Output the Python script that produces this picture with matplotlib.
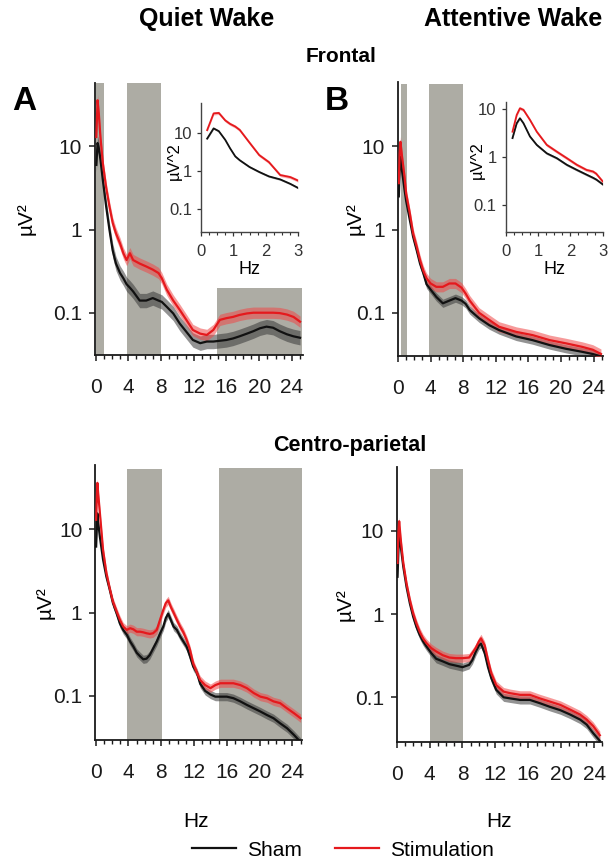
import matplotlib
matplotlib.use("Agg")
import matplotlib.pyplot as plt
import numpy as np
from matplotlib.ticker import FixedLocator, FixedFormatter, MultipleLocator, NullLocator
from matplotlib.lines import Line2D

plt.rcParams['font.family'] = ['Liberation Sans', 'DejaVu Sans']

# ---------------- spectra (µV^2) ----------------
# Quiet wake, frontal
qw_fr_freq = [0.1, 0.25, 0.4, 0.6, 0.9, 1.3, 1.7, 2.1, 2.5, 3.0, 3.4, 3.8, 4.2, 4.6, 5.4,
              6.2, 7.0, 7.7, 8.1, 8.7, 9.5, 10.3, 11.1, 11.9, 12.8, 13.6, 14.4, 15.2, 16.0,
              16.8, 17.6, 18.5, 19.3, 20.1, 20.9, 21.7, 22.5, 23.4, 24.2, 25.0]
qw_fr_sham = [6.0, 11.0, 9.5, 7.0, 3.9, 1.9, 1.0, 0.56, 0.39, 0.30, 0.26, 0.22, 0.20, 0.18, 0.14,
              0.14, 0.15, 0.14, 0.135, 0.118, 0.098, 0.074, 0.059, 0.047, 0.043, 0.045, 0.045, 0.046, 0.047,
              0.049, 0.052, 0.056, 0.060, 0.065, 0.068, 0.066, 0.060, 0.055, 0.052, 0.050]
qw_fr_stim = [13.0, 36.0, 25.0, 13.0, 6.2, 3.2, 1.9, 1.2, 0.9, 0.68, 0.52, 0.43, 0.52, 0.43, 0.39,
              0.36, 0.33, 0.30, 0.26, 0.19, 0.14, 0.108, 0.082, 0.062, 0.056, 0.054, 0.062, 0.082, 0.086,
              0.089, 0.094, 0.098, 0.100, 0.100, 0.100, 0.100, 0.099, 0.095, 0.089, 0.078]

# Attentive wake, frontal
aw_fr_freq = [0.1, 0.2, 0.3, 0.5, 0.8, 1.0, 1.45, 1.85, 2.3, 2.7, 3.1, 3.5, 4.0, 4.7, 5.5,
              6.3, 7.05, 7.8, 8.3, 8.8, 9.95, 11.2, 12.4, 14.5, 16.5, 18.6, 20.6, 22.6, 23.9, 24.9]
aw_fr_sham = [2.5, 5.2, 7.5, 5.0, 3.0, 2.2, 1.3, 0.82, 0.56, 0.39, 0.30, 0.22, 0.19, 0.155, 0.13,
              0.14, 0.15, 0.14, 0.128, 0.108, 0.086, 0.071, 0.062, 0.052, 0.047, 0.041, 0.037, 0.034, 0.032, 0.030]
aw_fr_stim = [3.6, 8.2, 11.3, 7.4, 4.3, 2.7, 1.56, 0.9, 0.62, 0.43, 0.32, 0.26, 0.225, 0.205, 0.205,
              0.225, 0.225, 0.20, 0.17, 0.14, 0.10, 0.082, 0.068, 0.059, 0.054, 0.047, 0.043, 0.039, 0.036, 0.032]

# Quiet wake, centro-parietal
qw_cp_freq = [0.05, 0.2, 0.3, 0.5, 0.9, 1.3, 1.7, 2.1, 2.55, 2.95, 3.35, 3.8, 4.2, 4.6, 5.0, 5.4, 5.8,
              6.2, 6.6, 7.0, 7.45, 7.85, 8.25, 8.55, 8.85, 9.2, 9.5, 9.9, 10.3, 10.7, 11.1, 11.5, 11.9,
              12.35, 12.75, 13.35, 14.0, 14.6, 15.2, 16.0, 16.8, 17.65, 18.45, 19.3, 20.1, 20.9, 21.7,
              22.5, 23.35, 24.2, 25.0]
qw_cp_sham = [6.2, 15.5, 12.0, 8.2, 4.3, 2.7, 1.9, 1.3, 0.98, 0.74, 0.62, 0.54, 0.45, 0.39, 0.33, 0.30, 0.275,
              0.28, 0.31, 0.37, 0.45, 0.56, 0.68, 0.86, 0.97, 0.80, 0.68, 0.62, 0.52, 0.45, 0.39, 0.30, 0.225,
              0.19, 0.14, 0.115, 0.104, 0.098, 0.098, 0.098, 0.094, 0.086, 0.078, 0.071, 0.065, 0.059, 0.054,
              0.047, 0.041, 0.034, 0.028]
qw_cp_stim = [13.0, 36.0, 27.0, 16.0, 5.6, 3.0, 1.96, 1.35, 1.03, 0.82, 0.68, 0.62, 0.65, 0.63, 0.59, 0.59, 0.58,
              0.565, 0.555, 0.565, 0.62, 0.82, 1.08, 1.3, 1.4, 1.15, 1.0, 0.82, 0.68, 0.58, 0.47, 0.36, 0.245,
              0.19, 0.155, 0.135, 0.124, 0.135, 0.142, 0.142, 0.142, 0.135, 0.124, 0.108, 0.098, 0.094, 0.086,
              0.082, 0.071, 0.062, 0.054]

# Attentive wake, centro-parietal
aw_cp_freq = [0.1, 0.2, 0.3, 0.5, 0.8, 1.2, 1.6, 2.0, 2.4, 2.8, 3.2, 3.6, 4.2, 4.8, 5.6, 6.4, 7.2,
              8.0, 8.8, 9.2, 9.6, 10.0, 10.25, 10.7, 11.1, 11.5, 12.1, 13.0, 13.8, 15.0, 16.2, 17.4,
              18.6, 19.9, 21.1, 22.3, 23.1, 23.9, 24.7]
aw_cp_sham = [2.8, 5.4, 10.0, 6.4, 3.7, 2.1, 1.34, 0.93, 0.70, 0.56, 0.47, 0.41, 0.34, 0.29, 0.27, 0.25, 0.24,
              0.23, 0.245, 0.28, 0.35, 0.42, 0.44, 0.34, 0.23, 0.17, 0.123, 0.10, 0.097, 0.093, 0.093, 0.085,
              0.077, 0.070, 0.062, 0.054, 0.047, 0.037, 0.030]
aw_cp_stim = [4.1, 9.3, 13.0, 7.7, 4.1, 2.3, 1.47, 1.02, 0.77, 0.61, 0.51, 0.45, 0.39, 0.355, 0.32, 0.30, 0.295,
              0.295, 0.30, 0.34, 0.39, 0.47, 0.51, 0.42, 0.28, 0.195, 0.14, 0.117, 0.112, 0.107, 0.107, 0.097,
              0.089, 0.081, 0.071, 0.062, 0.054, 0.045, 0.035]

# Low-frequency detail (insets, 0-3 Hz)
qw_low_freq = [0.19, 0.39, 0.55, 0.75, 0.9, 1.06, 1.2, 1.5, 1.8, 2.1, 2.45, 2.76, 3.0]
qw_low_sham = [7.0, 13.0, 11.0, 6.5, 3.9, 2.4, 1.9, 1.27, 0.94, 0.72, 0.60, 0.46, 0.36]
qw_low_stim = [11.7, 32.0, 33.0, 21.0, 17.0, 14.5, 11.8, 5.5, 2.6, 1.7, 0.78, 0.69, 0.56]

aw_low_freq = [0.21, 0.34, 0.44, 0.55, 0.75, 0.96, 1.27, 1.58, 1.89, 2.2, 2.5, 2.7, 2.8, 3.0]
aw_low_sham = [2.5, 5.1, 6.5, 5.1, 2.7, 1.8, 1.2, 0.95, 0.69, 0.54, 0.43, 0.37, 0.34, 0.27]
aw_low_stim = [3.4, 7.6, 10.5, 9.7, 6.0, 3.4, 1.8, 1.3, 0.95, 0.69, 0.54, 0.50, 0.45, 0.31]

# Relative SEM of each group (sham, stimulation)
sem_rel = {
    "qw_fr": (0.22, 0.17), "aw_fr": (0.12, 0.15),
    "qw_cp": (0.12, 0.12), "aw_cp": (0.12, 0.12),
    "qw_low": (0.06, 0.10), "aw_low": (0.06, 0.08),
}

# Frequency ranges with significant differences (start Hz, end Hz, top µV^2)
qw_fr_sig = [(0.12, 1.06, 58), (3.8, 7.95, 58), (14.8, 25.2, 0.2)]
aw_fr_sig = [(0.4, 1.15, 56), (3.8, 8.0, 56)]
qw_cp_sig = [(3.8, 8.05, 53), (15.0, 25.2, 55)]
aw_cp_sig = [(4.0, 8.1, 55)]

x_ticks = [0, 4, 8, 12, 16, 20, 24]
y_ticks = [0.1, 1, 10]
y_tick_labels = ["0.1", "1", "10"]
inset_x_ticks = [0, 1, 2, 3]

SHADE = "#adaca4"
RED = "#e5191d"
RED_BAND = "#f04848"
BLACK = "#111111"
GREY_BAND = "#3a3a3a"

W, H = 610, 861
fig = plt.figure(figsize=(W / 100, H / 100), dpi=100)


def px_axes(left, top, right, bottom):
    return fig.add_axes([left / W, 1 - bottom / H, (right - left) / W, (bottom - top) / H])


def draw_spectra(ax, freq, sham, stim, sems, lw=1.6, band_alpha=0.55):
    f = np.asarray(freq)
    s = np.asarray(sham)
    t = np.asarray(stim)
    rs, rt = sems
    ax.fill_between(f, s / (1 + rs), s * (1 + rs), color=GREY_BAND, alpha=band_alpha, lw=0, zorder=2)
    ax.fill_between(f, t / (1 + rt), t * (1 + rt), color=RED_BAND, alpha=band_alpha, lw=0, zorder=3)
    ax.plot(f, s, color=BLACK, lw=lw, zorder=4, solid_joinstyle="round")
    ax.plot(f, t, color=RED, lw=lw, zorder=5, solid_joinstyle="round")


def style_main(ax, xlim, ylim, ylabel_x):
    ax.set_yscale("log")
    ax.set_xlim(*xlim)
    ax.set_ylim(*ylim)
    for side in ("top", "right"):
        ax.spines[side].set_visible(False)
    for side in ("left", "bottom"):
        ax.spines[side].set_linewidth(1.3)
        ax.spines[side].set_color("#1a1a1a")
    ax.xaxis.set_major_locator(FixedLocator(x_ticks))
    ax.xaxis.set_minor_locator(MultipleLocator(1))
    ax.yaxis.set_major_locator(FixedLocator(y_ticks))
    ax.yaxis.set_major_formatter(FixedFormatter(y_tick_labels))
    ax.yaxis.set_minor_locator(NullLocator())
    ax.tick_params(axis="x", which="major", length=4.5, width=1.1, labelsize=15, pad=12, colors="#1a1a1a")
    ax.tick_params(axis="x", which="minor", length=3, width=1.0, colors="#1a1a1a")
    ax.tick_params(axis="y", which="major", length=4, width=1.1, labelsize=15, pad=5, colors="#1a1a1a")
    ax.set_ylabel("µV²", fontsize=15)
    ax.yaxis.set_label_coords(ylabel_x, 0.5)


def style_inset(ax, ylim, ylabel_x):
    ax.set_yscale("log")
    ax.set_xlim(0, 3)
    ax.set_ylim(*ylim)
    ax.set_facecolor("white")
    for side in ("top", "right"):
        ax.spines[side].set_visible(False)
    for side in ("left", "bottom"):
        ax.spines[side].set_linewidth(1.0)
        ax.spines[side].set_color("#444444")
    ax.xaxis.set_major_locator(FixedLocator(inset_x_ticks))
    ax.xaxis.set_minor_locator(MultipleLocator(0.25))
    ax.yaxis.set_major_locator(FixedLocator(y_ticks))
    ax.yaxis.set_major_formatter(FixedFormatter(y_tick_labels))
    ax.yaxis.set_minor_locator(NullLocator())
    ax.tick_params(axis="x", which="major", length=3, width=0.9, labelsize=12, pad=6, colors="#333333")
    ax.tick_params(axis="x", which="minor", length=2, width=0.8, colors="#333333")
    ax.tick_params(axis="y", which="major", length=3, width=0.9, labelsize=12, pad=3.5, colors="#333333")
    ax.set_xlabel("Hz", fontsize=13, labelpad=1)
    ax.set_ylabel("µV^2", fontsize=12)
    ax.yaxis.set_label_coords(ylabel_x, 0.55)


def shade(ax, bands, ybottom):
    for start, end, top in bands:
        ax.fill_between([start, end], [ybottom, ybottom], [top, top], color=SHADE, lw=0, zorder=1)


# ---- Quiet wake, frontal ----
ax_a = px_axes(94.7, 83, 302.5, 355)
style_main(ax_a, (-0.1, 25.3), (0.031, 58), -0.283)
shade(ax_a, qw_fr_sig, 0.031)
draw_spectra(ax_a, qw_fr_freq, qw_fr_sham, qw_fr_stim, sem_rel["qw_fr"])

ins_a = px_axes(201, 103, 298, 232)
style_inset(ins_a, (0.0252, 60), -0.2)
draw_spectra(ins_a, qw_low_freq, qw_low_sham, qw_low_stim, sem_rel["qw_low"], lw=1.3, band_alpha=0.4)

# ---- Attentive wake, frontal ----
ax_b = px_axes(397.6, 81.7, 603.4, 356)
style_main(ax_b, (-0.05, 25.2), (0.0303, 59.5), -0.158)
shade(ax_b, aw_fr_sig, 0.0303)
draw_spectra(ax_b, aw_fr_freq, aw_fr_sham, aw_fr_stim, sem_rel["aw_fr"])

ins_b = px_axes(505.7, 101.7, 602.7, 232)
style_inset(ins_b, (0.0272, 14.4), -0.215)
draw_spectra(ins_b, aw_low_freq, aw_low_sham, aw_low_stim, sem_rel["aw_low"], lw=1.3, band_alpha=0.4)

# ---- Quiet wake, centro-parietal ----
ax_c = px_axes(94.9, 465, 302.2, 740)
style_main(ax_c, (-0.1, 25.2), (0.0296, 59), -0.192)
shade(ax_c, qw_cp_sig, 0.0296)
draw_spectra(ax_c, qw_cp_freq, qw_cp_sham, qw_cp_stim, sem_rel["qw_cp"])
ax_c.set_xlabel("Hz", fontsize=15)
ax_c.xaxis.set_label_coords(0.49, -0.262)

# ---- Attentive wake, centro-parietal ----
ax_d = px_axes(396.7, 466.7, 602.3, 741.7)
style_main(ax_d, (0, 25.0), (0.0293, 58.7), -0.207)
shade(ax_d, aw_cp_sig, 0.0293)
draw_spectra(ax_d, aw_cp_freq, aw_cp_sham, aw_cp_stim, sem_rel["aw_cp"])
ax_d.set_xlabel("Hz", fontsize=15)
ax_d.xaxis.set_label_coords(0.50, -0.256)

# ---- titles and panel letters ----
fig.text(207 / W, 1 - 19 / H, "Quiet Wake", ha="center", va="center", fontsize=18, fontweight="bold")
fig.text(513 / W, 1 - 19 / H, "Attentive Wake", ha="center", va="center", fontsize=18, fontweight="bold")
fig.text(341 / W, 1 - 57 / H, "Frontal", ha="center", va="center", fontsize=15, fontweight="bold")
fig.text(350 / W, 1 - 446 / H, "Centro-parietal", ha="center", va="center", fontsize=15.5, fontweight="bold")
fig.text(24 / W, 1 - 101 / H, "A", ha="center", va="center", fontsize=24, fontweight="bold")
fig.text(337 / W, 1 - 101 / H, "B", ha="center", va="center", fontsize=24, fontweight="bold")

# ---- legend ----
handles = [Line2D([], [], color=BLACK, lw=1.6), Line2D([], [], color=RED, lw=1.6)]
fig.legend(handles, ["Sham", "Stimulation"], loc="center", bbox_to_anchor=(343 / W, 11 / H),
           ncol=2, frameon=False, fontsize=15, handlelength=2.1, handletextpad=0.55,
           columnspacing=1.6, borderpad=0, borderaxespad=0)

fig.savefig("out.png", dpi=100)
